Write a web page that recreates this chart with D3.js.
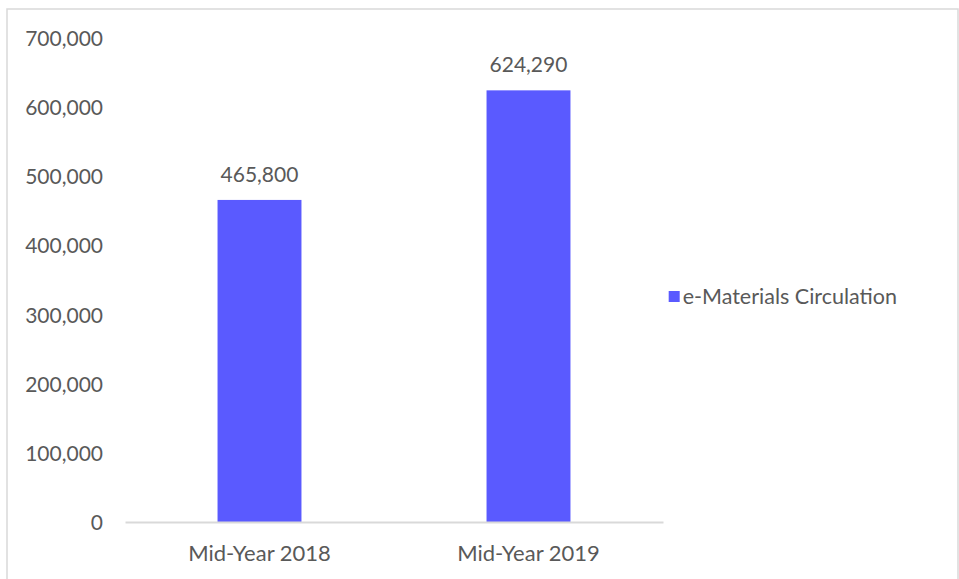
<!DOCTYPE html>
<html>
<head>
<meta charset="utf-8">
<script src="https://cdn.jsdelivr.net/npm/d3@7"></script>
<style>
  html, body { margin: 0; padding: 0; background: #fff; }
  svg text { font-family: Lato, "Open Sans", sans-serif; fill: #595959; }
</style>
</head>
<body>
<svg id="chart" width="959" height="579"></svg>
<script>
// Chart data
const categories = ["Mid-Year 2018", "Mid-Year 2019"];
const circulation = [465800, 624290];
const seriesName = "e-Materials Circulation";
const yTicks = [0, 100000, 200000, 300000, 400000, 500000, 600000, 700000];

const svg = d3.select("#chart");
const plot = { left: 125, right: 663, top: 38, bottom: 522 };
const barColor = "#5A5AFF";
const gridColor = "#D9D9D9";
const numSize = 21;
const catSize = 22;
const legendSize = 21.5;

// Outer chart frame
svg.append("rect")
  .attr("x", 7).attr("y", 9)
  .attr("width", 951).attr("height", 600)
  .attr("fill", "#fff")
  .attr("stroke", gridColor)
  .attr("stroke-width", 1.5);

const x = d3.scaleBand()
  .domain(categories)
  .range([plot.left, plot.right])
  .paddingInner(0.688)
  .paddingOuter(0.344);

const y = d3.scaleLinear()
  .domain([0, 700000])
  .range([plot.bottom, plot.top]);

const fmt = d3.format(",");

// Y axis: labels only
const yAxis = svg.append("g")
  .attr("transform", `translate(${plot.left - 22},0)`)
  .call(d3.axisLeft(y).tickValues(yTicks).tickFormat(fmt).tickSize(0).tickPadding(0));
yAxis.select(".domain").remove();
yAxis.selectAll("text")
  .attr("font-size", numSize)
  .attr("dy", "0.36em")
  .style("font-family", "Lato, 'Open Sans', sans-serif")
  .attr("fill", "#595959");

const rows = categories.map((c, i) => ({ c, v: circulation[i] }));

// Bars
svg.append("g").selectAll("rect")
  .data(rows)
  .join("rect")
  .attr("x", d => x(d.c))
  .attr("y", d => y(d.v))
  .attr("width", x.bandwidth())
  .attr("height", d => y(0) - y(d.v))
  .attr("fill", barColor);

// Value labels
svg.append("g").selectAll("text")
  .data(rows)
  .join("text")
  .attr("x", d => x(d.c) + x.bandwidth() / 2)
  .attr("y", d => y(d.v) - 18)
  .attr("text-anchor", "middle")
  .attr("font-size", numSize)
  .text(d => fmt(d.v));

// X axis
const xAxis = svg.append("g")
  .attr("transform", `translate(0,${plot.bottom})`)
  .call(d3.axisBottom(x).tickSize(0).tickPadding(0));
xAxis.select(".domain")
  .attr("stroke", gridColor)
  .attr("stroke-width", 2);
xAxis.selectAll("text")
  .attr("font-size", catSize)
  .attr("y", 39)
  .attr("dy", 0)
  .style("font-family", "Lato, 'Open Sans', sans-serif")
  .attr("fill", "#595959");

// Legend
const legend = svg.append("g");
const legendText = legend.append("text")
  .attr("x", 897)
  .attr("y", 304)
  .attr("text-anchor", "end")
  .attr("font-size", legendSize)
  .text(seriesName);
const bb = legendText.node().getBBox();
legend.append("rect")
  .attr("x", bb.x - 14)
  .attr("y", 291)
  .attr("width", 11)
  .attr("height", 11)
  .attr("fill", barColor);
</script>
</body>
</html>
